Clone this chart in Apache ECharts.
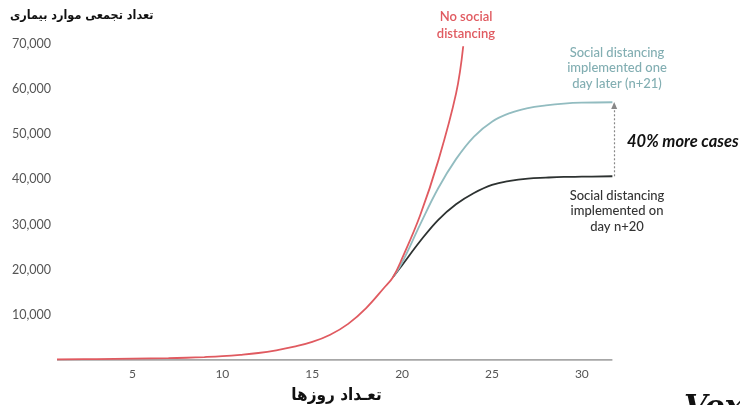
<!DOCTYPE html>
<html>
<head>
<meta charset="utf-8">
<script src="https://cdn.jsdelivr.net/npm/echarts@6/dist/echarts.min.js"></script>
<style>
html,body{margin:0;padding:0;background:#fff;}
#chart{width:740px;height:405px;}
</style>
</head>
<body>
<div id="chart"></div>
<script>
// Data
var xTickValues = [5, 10, 15, 20, 25, 30];
var yTickValues = [10000, 20000, 30000, 40000, 50000, 60000, 70000];

var noDistancingDays   = [0.8, 3, 5, 7, 8, 9, 10, 11, 12, 13, 14, 15, 16, 17, 18, 19, 19.5, 20, 21, 22, 23, 23.4];
var noDistancingCases  = [150, 200, 300, 400, 500, 650, 850, 1150, 1550, 2150, 2950, 4000, 5600, 8000, 11500, 16000, 18400, 22500, 32000, 44000, 59000, 69500];

var laterDays   = [19.5, 20, 21, 22, 23, 24, 25, 26, 27, 28, 29, 30, 31.7];
var laterCases  = [18400, 21600, 30000, 38000, 44500, 49500, 52800, 54700, 55800, 56400, 56800, 57000, 57100];

var onTimeDays  = [19.5, 20, 21, 22, 23, 24, 25, 26, 27, 28, 29, 30, 31.7];
var onTimeCases = [18400, 21000, 26300, 31000, 34500, 37000, 38800, 39700, 40200, 40400, 40550, 40600, 40700];

var arrowDay = 31.8;

function zip(a, b) { return a.map(function (v, i) { return [v, b[i]]; }); }

var chart = echarts.init(document.getElementById('chart'));
var sans = 'Lato, "Open Sans", sans-serif';
var fa = '"DejaVu Sans Condensed", "DejaVu Sans", sans-serif';

chart.setOption({
  animation: false,
  backgroundColor: '#ffffff',
  grid: { left: 57, right: 124, top: 44, bottom: 45, outerBoundsMode: 'none', containLabel: false },
  xAxis: {
    type: 'value',
    min: 0.8,
    max: 31.9,
    name: 'تعـداد روزها',
    nameLocation: 'middle',
    nameGap: 27,
    nameTextStyle: { fontFamily: fa, fontWeight: 'bold', fontSize: 17, color: '#111' },
    axisLine: { show: false },
    axisTick: { show: false },
    splitLine: { show: false },
    axisLabel: {
      customValues: xTickValues,
      color: '#555', fontFamily: sans, fontSize: 12, margin: 8
    }
  },
  yAxis: {
    type: 'value',
    min: 0,
    max: 70000,
    interval: 10000,
    axisLine: { show: false },
    axisTick: { show: false },
    splitLine: { show: false },
    axisLabel: {
      customValues: yTickValues,
      color: '#555', fontFamily: sans, fontSize: 12.5, margin: 6,
      formatter: function (v) { return v === 0 ? '' : v.toLocaleString('en-US'); }
    }
  },
  series: [
    {
      type: 'line', name: 'baseline', data: [[0.8, 0], [31.7, 0]],
      showSymbol: false, symbol: 'none', silent: true,
      lineStyle: { color: '#8a8a8a', width: 1.5 }
    },
    {
      type: 'line', name: 'n+20', data: zip(onTimeDays, onTimeCases),
      smooth: 0.4, showSymbol: false, symbol: 'none',
      lineStyle: { color: '#2d3231', width: 1.8 },
      markLine: {
        silent: true,
        symbol: ['none', 'triangle'],
        symbolSize: [6, 7],
        label: { show: false },
        lineStyle: { color: '#888', type: [2, 2], width: 1.2 },
        data: [[{ coord: [arrowDay, onTimeCases[onTimeCases.length - 1]] },
                { coord: [arrowDay, laterCases[laterCases.length - 1] - 700] }]]
      }
    },
    {
      type: 'line', name: 'n+21', data: zip(laterDays, laterCases),
      smooth: 0.4, showSymbol: false, symbol: 'none',
      lineStyle: { color: '#92bcc0', width: 1.8 }
    },
    {
      type: 'line', name: 'none', data: zip(noDistancingDays, noDistancingCases),
      smooth: 0.4, showSymbol: false, symbol: 'none',
      lineStyle: { color: '#e05a60', width: 1.8 }
    }
  ],
  graphic: [
    { type: 'text', left: 10, top: 9,
      style: { text: 'تعداد تجمعی موارد بیماری', font: 'bold 12.5px "DejaVu Sans Condensed", "DejaVu Sans"', fill: '#111' } },
    { type: 'text', x: 466, y: 8,
      style: { text: 'No social\ndistancing', font: '600 13px Lato', fill: '#e05a60', align: 'center', lineHeight: 17 } },
    { type: 'text', x: 617, y: 45,
      style: { text: 'Social distancing\nimplemented one\nday later (n+21)', font: '500 13px Lato', fill: '#82aeb2', align: 'center', lineHeight: 15.5 } },
    { type: 'text', x: 627, y: 133,
      style: { text: '40% more cases', font: 'italic bold 16.5px Lato', fill: '#111' } },
    { type: 'text', x: 617, y: 188,
      style: { text: 'Social distancing\nimplemented on\nday n+20', font: '500 13px Lato', fill: '#333', align: 'center', lineHeight: 15.5 } },
    { type: 'text', x: 684, y: 393,
      style: { text: 'Vox', font: 'italic bold 30px "DejaVu Serif"', fill: '#111' } }
  ]
});
</script>
</body>
</html>
